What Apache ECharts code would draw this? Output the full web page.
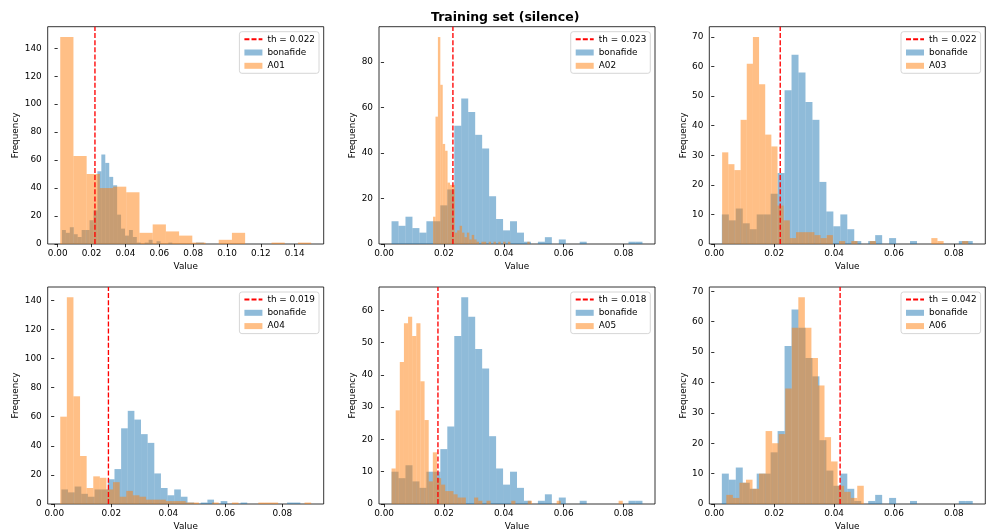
<!DOCTYPE html>
<html>
<head>
<meta charset="utf-8">
<script src="https://cdn.jsdelivr.net/npm/echarts@6/dist/echarts.min.js"></script>
<style>
  html, body { margin: 0; padding: 0; background: #fff; }
  #chart { width: 987px; height: 532px; }
</style>
</head>
<body>
<div id="chart"></div>
<script>
// ---- histogram data: first bin edge, bin width and counts per bin ----
const bonafideStart = 0.0025;
const bonafideWidth = 0.002328;
const bonafideCounts = [10, 8, 12, 7, 5, 10, 10, 17, 24, 52, 64, 58, 48, 42, 21, 11, 6, 10, 5, 1,
                        0, 1, 3, 0, 2, 0, 0, 1, 0, 0, 0, 0, 0, 0, 1, 1];

const attackNames = ['A01', 'A02', 'A03', 'A04', 'A05', 'A06'];
const thresholds = [0.022, 0.023, 0.022, 0.019, 0.018, 0.042];
const attackStarts = [0.0015, 0.01637, 0.0026, 0.0021, 0.0025, 0.0040];
const attackWidths = [0.00780, 0.000807, 0.002055, 0.002316, 0.001379, 0.002186];

const a01Counts = [148, 63, 50, 40, 41, 37, 8, 14, 9, 6, 1, 0, 3, 8, 0, 0, 1, 0, 1];
const a02Counts = [12, 56, 91, 70, 44, 41, 27, 26, 26, 5, 6, 8, 5, 3, 5, 2, 4, 2, 1, 0,
                   1, 1, 0, 1, 0, 1, 0, 1, 0, 1, 0, 1, 0, 0, 0, 0, 0, 0, 0, 1];
const a03Counts = [31, 27, 25, 42, 61, 70, 54, 37, 33, 13, 8, 2, 4, 4, 4, 3, 2, 3, 0, 1,
                   0, 1, 0, 0, 1, 0, 0, 0, 0, 0, 0, 0, 0, 0, 2, 1, 0, 0, 0, 1];
const a04Counts = [60, 142, 74, 33, 11, 19, 18, 10, 15, 5, 9, 6, 5, 3, 3, 3, 2, 2, 2, 1,
                   1, 0, 0, 1, 0, 0, 1, 0, 0, 0, 1, 1, 1, 0, 0, 0, 0, 1];
const a05Counts = [11, 29, 44, 56, 58, 52, 56, 38, 26, 7, 16, 8, 6, 4, 4, 3, 2, 2, 0, 0,
                   2, 1, 0, 1, 0, 0, 0, 0, 0, 1, 0, 0, 0, 1, 0, 0, 0, 0, 0, 0,
                   1, 0, 0, 0, 0, 0, 0, 0, 0, 0, 0, 0, 0, 0, 0, 1];
const a06Counts = [3, 2, 7, 8, 5, 10, 24, 20, 23, 38, 58, 68, 58, 48, 39, 22, 14, 6, 4, 2, 6];
const attackCounts = [a01Counts, a02Counts, a03Counts, a04Counts, a05Counts, a06Counts];

// ---- tick labels ----
const xTicksWide = [0, 0.02, 0.04, 0.06, 0.08, 0.10, 0.12, 0.14];
const xTicksNarrow = [0, 0.02, 0.04, 0.06, 0.08];
const xTicksPerPanel = [xTicksWide, xTicksNarrow, xTicksNarrow, xTicksNarrow, xTicksNarrow, xTicksNarrow];
const yTicksPerPanel = [
  [0, 20, 40, 60, 80, 100, 120, 140],
  [0, 20, 40, 60, 80],
  [0, 10, 20, 30, 40, 50, 60, 70],
  [0, 20, 40, 60, 80, 100, 120, 140],
  [0, 10, 20, 30, 40, 50, 60],
  [0, 10, 20, 30, 40, 50, 60, 70]
];

// ---- layout ----
const W = 987;
const colLeft = [47.7, 379, 709.3];
const rowTop = [26.7, 287];
const plotW = 276;
const rowH = [217.3, 218];
const yNameGap = [28, 21.5, 21.5, 27.5, 21.5, 21.5];

const FONT = 'DejaVu Sans';
const FS = 8.9;
const BLUE = 'rgba(31,119,180,0.5)';
const ORANGE = 'rgba(255,127,14,0.5)';

function toBins(start, width, counts) {
  return counts.map((c, i) => [start + i * width, start + (i + 1) * width, c]);
}

function renderBar(params, api) {
  const c = api.value(2);
  if (!c) return null;
  const p0 = api.coord([api.value(0), c]);
  const p1 = api.coord([api.value(1), 0]);
  return {
    type: 'rect',
    shape: { x: p0[0], y: p0[1], width: p1[0] - p0[0], height: p1[1] - p0[1] },
    style: { fill: api.visual('color') }
  };
}

const grids = [], xAxes = [], yAxes = [], series = [], legends = [];
const bonafideBins = toBins(bonafideStart, bonafideWidth, bonafideCounts);

for (let i = 0; i < 6; i++) {
  const col = i % 3, row = Math.floor(i / 3);
  const left = colLeft[col], top = rowTop[row], h = rowH[row];
  const attackBins = toBins(attackStarts[i], attackWidths[i], attackCounts[i]);
  const all = bonafideBins.concat(attackBins);
  const lo = Math.min(...all.map(b => b[0]));
  const hi = Math.max(...all.map(b => b[1]));
  const span = hi - lo;
  const yMax = 1.05 * Math.max(...all.map(b => b[2]));
  const thName = 'th = ' + thresholds[i].toFixed(3);

  grids.push({ left: left, top: top, width: plotW, height: h, show: true,
               borderColor: '#000', borderWidth: 0.8, backgroundColor: 'transparent' });

  xAxes.push({
    type: 'value', gridIndex: i, min: lo - 0.05 * span, max: hi + 0.05 * span,
    name: 'Value', nameLocation: 'middle', nameGap: 18,
    nameTextStyle: { fontFamily: FONT, fontSize: FS, color: '#000' },
    axisLine: { show: false },
    axisTick: { show: true, length: 3.2, customValues: xTicksPerPanel[i],
                lineStyle: { color: '#000', width: 0.8 } },
    axisLabel: { customValues: xTicksPerPanel[i], margin: 5, fontFamily: FONT, fontSize: FS,
                 color: '#000', formatter: v => v.toFixed(2) },
    splitLine: { show: false }
  });

  yAxes.push({
    type: 'value', gridIndex: i, min: 0, max: yMax,
    name: 'Frequency', nameLocation: 'middle', nameGap: yNameGap[i], nameRotate: 90,
    nameTextStyle: { fontFamily: FONT, fontSize: FS, color: '#000' },
    axisLine: { show: false },
    axisTick: { show: true, length: 3.2, customValues: yTicksPerPanel[i],
                lineStyle: { color: '#000', width: 0.8 } },
    axisLabel: { customValues: yTicksPerPanel[i], margin: 6, fontFamily: FONT, fontSize: FS,
                 color: '#000', formatter: v => String(v) },
    splitLine: { show: false }
  });

  series.push({
    type: 'custom', name: 'bonafide', xAxisIndex: i, yAxisIndex: i,
    data: bonafideBins, encode: { x: [0, 1], y: 2 },
    itemStyle: { color: BLUE }, renderItem: renderBar, silent: true, z: 1
  });
  series.push({
    type: 'custom', name: attackNames[i], xAxisIndex: i, yAxisIndex: i,
    data: attackBins, encode: { x: [0, 1], y: 2 },
    itemStyle: { color: ORANGE }, renderItem: renderBar, silent: true, z: 2
  });
  series.push({
    type: 'line', name: thName, xAxisIndex: i, yAxisIndex: i,
    data: [[thresholds[i], 0], [thresholds[i], yMax]],
    symbol: 'none', silent: true, z: 3,
    lineStyle: { color: '#ff0000', width: 1.35, type: [5, 2.1] },
    itemStyle: { color: '#ff0000' }
  });

  legends.push({
    data: [
      { name: thName, itemStyle: { opacity: 0 } },
      { name: 'bonafide', icon: 'rect' },
      { name: attackNames[i], icon: 'rect' }
    ],
    orient: 'vertical',
    right: W - (left + plotW - 4.7),
    top: top + 5,
    itemWidth: 18, itemHeight: 6, itemGap: 2.3,
    padding: [2, 4, 2, 4],
    backgroundColor: 'rgba(255,255,255,0.8)',
    borderColor: '#cccccc', borderWidth: 0.8, borderRadius: 2.5,
    textStyle: { fontFamily: FONT, fontSize: FS, color: '#000', lineHeight: 11 },
    selectedMode: false
  });
}

const chart = echarts.init(document.getElementById('chart'), null, { renderer: 'canvas' });
chart.setOption({
  animation: false,
  backgroundColor: '#fff',
  title: {
    text: 'Training set (silence)', left: 426, top: 6,
    textStyle: { fontFamily: FONT, fontSize: 12.5, fontWeight: 'bold', color: '#000' }
  },
  legend: legends,
  grid: grids,
  xAxis: xAxes,
  yAxis: yAxes,
  series: series
});
</script>
</body>
</html>
